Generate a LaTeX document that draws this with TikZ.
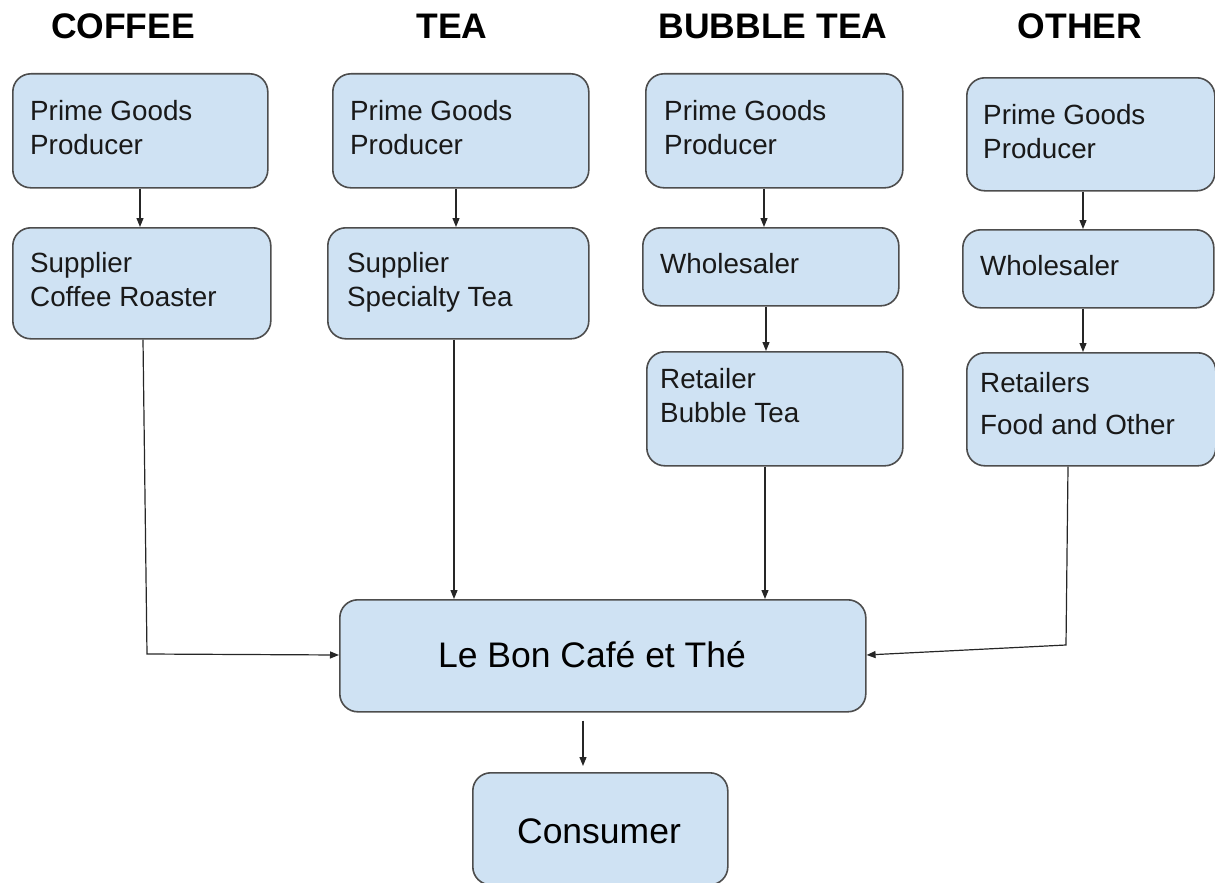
\documentclass[tikz,border=0pt]{standalone}
\usepackage{fontspec}
\setmainfont{Liberation Sans}
\usetikzlibrary{arrows.meta}
\definecolor{boxfill}{HTML}{CFE2F3}
\definecolor{boxline}{HTML}{4D4D4D}
\tikzset{
  box/.style={draw=boxline, line width=1.6pt, fill=boxfill, rounded corners=18pt, anchor=north west, inner sep=0pt},
  txt/.style={anchor=base west, inner sep=0pt, font=\fontsize{27.8}{33}\selectfont, text=black!90},
  bigtxt/.style={anchor=base, inner sep=0pt, font=\fontsize{35.5}{42}\selectfont, text=black},
  title/.style={anchor=base, inner sep=0pt, font=\fontsize{35.5}{40}\bfseries\selectfont},
  conn/.style={draw=black!85, line width=1.2pt, -{Triangle[length=9pt,width=7pt]}}
}
\begin{document}
\begin{tikzpicture}[x=1pt,y=-1pt]
\useasboundingbox (0,0) rectangle (1215,883);
% titles
\node[title] (t1) at (123,39) {COFFEE};
\node[title] (t2) at (452,39) {TEA};
\node[title] (t3) at (773,39) {BUBBLE TEA};
\node[title] (t4) at (1080,39) {OTHER};
% coffee
\node[box, minimum width=255pt, minimum height=114pt] (cp) at (12,73) {};
\node[box, minimum width=258pt, minimum height=111pt] (cs) at (12,227) {};
% tea
\node[box, minimum width=256pt, minimum height=114pt] (tp) at (332,73) {};
\node[box, minimum width=261pt, minimum height=111pt] (ts) at (327,227) {};
% bubble tea
\node[box, minimum width=257pt, minimum height=114pt] (bp) at (645,73) {};
\node[box, minimum width=256pt, minimum height=78pt] (bw) at (642,227) {};
\node[box, minimum width=256pt, minimum height=114pt] (br) at (646,351) {};
% other
\node[box, minimum width=248pt, minimum height=113pt] (op) at (966,77) {};
\node[box, minimum width=251pt, minimum height=78pt] (ow) at (962,229) {};
\node[box, minimum width=249pt, minimum height=113pt] (or) at (966,352) {};
% center
\node[box, minimum width=526pt, minimum height=112pt] (lb) at (339,599) {};
\node[box, minimum width=255pt, minimum height=112pt] (cu) at (472,772) {};
% texts
\node[txt] (cp1) at (30,120) {Prime Goods};
\node[txt] (cp2) at (30,154) {Producer};
\node[txt] (cs1) at (30,272) {Supplier};
\node[txt] (cs2) at (30,306) {Coffee Roaster};
\node[txt] (tp1) at (350,120) {Prime Goods};
\node[txt] (tp2) at (350,154) {Producer};
\node[txt] (ts1) at (347,272) {Supplier};
\node[txt] (ts2) at (347,306) {Specialty Tea};
\node[txt] (bp1) at (664,120) {Prime Goods};
\node[txt] (bp2) at (664,154) {Producer};
\node[txt] (bw1) at (660,273) {Wholesaler};
\node[txt] (br1) at (660,388) {Retailer};
\node[txt] (br2) at (660,422) {Bubble Tea};
\node[txt] (op1) at (983,124) {Prime Goods};
\node[txt] (op2) at (983,158) {Producer};
\node[txt] (ow1) at (980,275) {Wholesaler};
\node[txt] (or1) at (980,392) {Retailers};
\node[txt] (or2) at (980,434) {Food and Other};
\node[bigtxt] (lb1) at (592,667) {Le Bon Café et Thé};
\node[bigtxt] (cu1) at (599,843) {Consumer};
% connectors
\draw[conn] (cp.south -| 140,0) -- (cs.north -| 140,0);
\draw[conn] (tp.south -| 456,0) -- (ts.north -| 456,0);
\draw[conn] (bp.south -| 764,0) -- (bw.north -| 764,0);
\draw[conn] (bw.south -| 766,0) -- (br.north -| 766,0);
\draw[conn] (op.south -| 1083,0) -- (ow.north -| 1083,0);
\draw[conn] (ow.south -| 1083,0) -- (or.north -| 1083,0);
\coordinate (c1) at (147,654);
\coordinate (c2) at (1066,645);
\draw[conn] (cs.south -| 143,0) -- (c1) -- (lb.west |- 0,655);
\draw[conn] (ts.south -| 454,0) -- (lb.north -| 454,0);
\draw[conn] (br.south -| 765,0) -- (lb.north -| 765,0);
\draw[conn] (or.south -| 1068,0) -- (c2) -- (lb.east |- 0,655);
\draw[conn] ([yshift=-8pt]lb.south -| 583,0) -- ([yshift=6pt]cu.north -| 583,0);
\end{tikzpicture}
\end{document}
